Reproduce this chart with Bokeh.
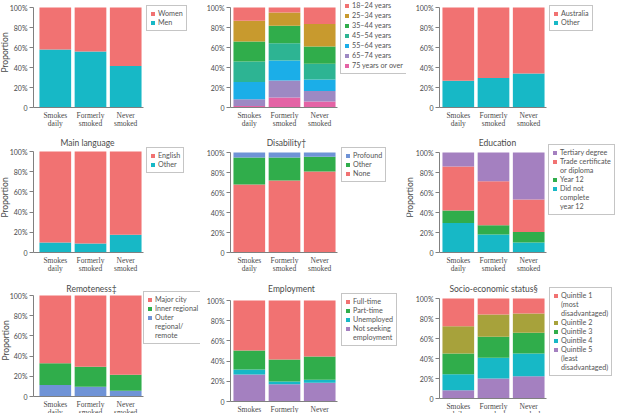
from math import pi
from bokeh.plotting import figure
from bokeh.models import (ColumnDataSource, Range1d, FixedTicker,
                          Legend, LegendItem, Label, LabelSet)
from bokeh.layouts import column, row
from bokeh.embed import file_html
from bokeh.resources import INLINE

# ---------------- data ----------------
categories = ["Smokes daily", "Formerly smoked", "Never smoked"]
category_line1 = ["Smokes", "Formerly", "Never"]
category_line2 = ["daily", "smoked", "smoked"]
y_ticks = [0, 20, 40, 60, 80, 100]
y_tick_labels = ["0", "20%", "40%", "60%", "80%", "100%"]

# series are listed bottom-to-top of the stack
sex_names = ["Men", "Women"]
sex_men = [58, 56, 41.5]
sex_women = [42, 44, 58.5]

age_names = ["75 years or over", "65\u201374 years", "55\u201364 years", "45\u201354 years",
             "35\u201344 years", "25\u201334 years", "18\u201324 years"]
age_75plus = [1.5, 10, 6]
age_65_74 = [6.8, 17, 10.6]
age_55_64 = [17.2, 20, 11.5]
age_45_54 = [20.5, 17.2, 15.6]
age_35_44 = [20, 17.6, 17.3]
age_25_34 = [20.8, 13.2, 22.4]
age_18_24 = [13.2, 5, 16.6]

birth_names = ["Other", "Australia"]
birth_other = [26.8, 29.5, 34]
birth_australia = [73.2, 70.5, 66]

lang_names = ["Other", "English"]
lang_other = [9.9, 8.9, 17.5]
lang_english = [90.1, 91.1, 82.5]

dis_names = ["None", "Other", "Profound"]
dis_none = [68, 72, 81]
dis_other = [27, 23, 14.7]
dis_profound = [5, 5, 4.3]

edu_names = ["Did not\ncomplete\nyear 12", "Year 12", "Trade certificate\nor diploma", "Tertiary degree"]
edu_notcomplete = [29.5, 18, 10]
edu_year12 = [12.5, 9.2, 10.5]
edu_trade = [44, 44, 32.5]
edu_tertiary = [14, 28.8, 47]

rem_names = ["Outer\nregional/\nremote", "Inner regional", "Major city"]
rem_outer = [11.3, 9.6, 5.6]
rem_inner = [21.5, 19.9, 15.9]
rem_major = [67.2, 70.5, 78.5]

emp_names = ["Not seeking\nemployment", "Unemployed", "Part-time", "Full-time"]
emp_notseeking = [26.7, 17.2, 18.5]
emp_unemployed = [5, 2.6, 3]
emp_parttime = [18.8, 21.8, 23.1]
emp_fulltime = [49.5, 58.4, 55.4]

ses_names = ["Quintile 5\n(least\ndisadvantaged)", "Quintile 4", "Quintile 3", "Quintile 2",
             "Quintile 1\n(most\ndisadvantaged)"]
ses_q5 = [8.3, 20, 22.3]
ses_q4 = [16, 20.7, 22.7]
ses_q3 = [20.7, 21, 20.7]
ses_q2 = [27.3, 22.3, 19.3]
ses_q1 = [27.7, 16, 15]

# ---------------- style / layout ----------------
SALMON = "#F17272"
TEAL = "#17B8C6"
GREEN = "#30AD4B"
BLUE = "#6F93D6"
PURPLE = "#A480C0"
GOLD = "#C89A2E"
TEALGREEN = "#2DB493"
SKY = "#1BAEE8"
LAVENDER = "#9D89C3"
PINK = "#E463A5"
OLIVE = "#A7A23B"
FONT = "Lato"
TXT = "#4a4a4a"
LEGTXT = "#555555"
AXC = "#808080"
UNIT = 35.2     # px per category
LH = 8          # legend line pitch
PAD = 3

COLS = [(0, 200, 33, 37.2), (200, 206, 230, 231.2), (406, 214, 439, 440.2)]  # left, width, axis px, bars-left px
ROWS = [(0, 135), (135, 140), (275, 138)]  # top, height


def panel(ci, ri, tb, title, title_xy, names, colors, values, leg_xy,
          proportion_xy=None, spacing=0):
    cl, cw, ax_px, l_px = COLS[ci]
    ct, ch = ROWS[ri]
    t_px, b_px = tb
    cb = ct + ch
    xstart = -0.5 - (l_px - cl) / UNIT
    ppu = (b_px - t_px) / 100.0
    p = figure(x_range=Range1d(xstart, xstart + cw / UNIT),
               y_range=Range1d(-(cb - b_px) / ppu, 100 + (t_px - ct) / ppu),
               width=cw, height=ch, output_backend="svg", toolbar_location=None,
               min_border=0)
    xpos = list(range(len(categories)))
    data = {"x": xpos}
    keys = []
    for i, v in enumerate(values):
        data[f"s{i}"] = v
        keys.append(f"s{i}")
    src = ColumnDataSource(data)
    rs = p.vbar_stack(keys, x="x", width=0.9, fill_color=colors, line_color=None,
                      source=src)
    dummy = p.vbar(x=[], top=[], width=0.9, fill_alpha=0, line_alpha=0)
    p.outline_line_color = None
    p.xgrid.visible = False
    p.ygrid.visible = False
    p.background_fill_color = "white"
    p.border_fill_color = "white"

    axis_x = -0.5 - (l_px - ax_px) / UNIT
    ya = p.yaxis[0]
    ya.fixed_location = axis_x
    ya.bounds = (0, 100)
    ya.ticker = FixedTicker(ticks=y_ticks)
    ya.major_label_overrides = dict(zip(y_ticks, y_tick_labels))
    ya.major_tick_out = 4
    ya.major_tick_in = 0
    ya.minor_tick_line_color = None
    ya.major_label_standoff = 2
    ya.major_label_text_font = FONT
    ya.major_label_text_font_size = "7px"
    ya.major_label_text_color = TXT
    ya.axis_line_color = AXC
    ya.major_tick_line_color = AXC

    xa = p.xaxis[0]
    xa.fixed_location = 0
    xa.bounds = (axis_x, len(categories) - 0.5)
    xa.ticker = FixedTicker(ticks=[])
    xa.minor_tick_line_color = None
    xa.major_tick_line_color = None
    xa.axis_line_color = AXC

    for line, off in ((category_line1, -3), (category_line2, -11)):
        lsrc = ColumnDataSource(dict(x=xpos, y=[0] * len(xpos), text=line))
        p.add_layout(LabelSet(x="x", y="y", text="text", source=lsrc, y_offset=off,
                              text_align="center", text_baseline="top",
                              text_font=FONT, text_font_size="7.5px", text_color=TXT))

    if title:
        p.add_layout(Label(x=title_xy[0] - cl, y=cb - title_xy[1], x_units="screen",
                           y_units="screen", text=title, text_align="center",
                           text_baseline="middle", text_font=FONT,
                           text_font_size="8.5px", text_color=TXT))

    if proportion_xy is not None:
        p.add_layout(Label(x=proportion_xy[0] - cl, y=cb - proportion_xy[1],
                           x_units="screen", y_units="screen",
                           text="Proportion", angle=pi / 2, text_align="center",
                           text_baseline="middle", text_font=FONT,
                           text_font_size="8.5px", text_color=TXT))

    items = []
    for i in range(len(names) - 1, -1, -1):
        parts = names[i].split("\n")
        items.append(LegendItem(label=parts[0], renderers=[rs[i]]))
        for extra in parts[1:]:
            items.append(LegendItem(label=extra, renderers=[dummy]))
    n = len(items)
    leg_h = 2 * PAD + n * LH + spacing * (n - 1)
    lg = Legend(items=items, location=(leg_xy[0] - cl, cb - leg_xy[1] - leg_h),
                orientation="vertical",
                border_line_color="#8c8c8c", border_line_width=1,
                background_fill_color="white", background_fill_alpha=1,
                padding=PAD, margin=0, spacing=spacing, label_height=LH,
                glyph_height=5, glyph_width=5, label_standoff=3,
                label_text_font=FONT, label_text_font_size="7.2px",
                label_text_color=LEGTXT)
    p.add_layout(lg, "center")
    return p


r1 = row(
    panel(0, 0, (7, 107), None, None, sex_names, [TEAL, SALMON], [sex_men, sex_women],
          (146, 9), proportion_xy=(4, 52)),
    panel(1, 0, (7, 107), None, None, age_names,
          [PINK, LAVENDER, SKY, TEALGREEN, GREEN, GOLD, SALMON],
          [age_75plus, age_65_74, age_55_64, age_45_54, age_35_44, age_25_34, age_18_24],
          (340, 6), spacing=1),
    panel(2, 0, (7, 107), None, None, birth_names, [TEAL, SALMON],
          [birth_other, birth_australia], (549, 9)),
)
r2 = row(
    panel(0, 1, (151, 252), "Main language", (87, 142.5), lang_names, [TEAL, SALMON],
          [lang_other, lang_english], (146, 151), proportion_xy=(4, 197)),
    panel(1, 1, (152, 252), "Disability\u2020", (286, 142.5), dis_names,
          [SALMON, GREEN, BLUE], [dis_none, dis_other, dis_profound], (341, 152)),
    panel(2, 1, (152, 252), "Education", (497, 142.5), edu_names,
          [TEAL, GREEN, SALMON, PURPLE],
          [edu_notcomplete, edu_year12, edu_trade, edu_tertiary], (548, 153),
          proportion_xy=(409.5, 197)),
)
r3 = row(
    panel(0, 2, (295, 396), "Remoteness\u2021", (91, 288.5), rem_names,
          [BLUE, GREEN, SALMON], [rem_outer, rem_inner, rem_major], (143, 298),
          proportion_xy=(5, 340)),
    panel(1, 2, (300, 401), "Employment", (291, 288.5), emp_names,
          [PURPLE, TEAL, GREEN, SALMON],
          [emp_notseeking, emp_unemployed, emp_parttime, emp_fulltime], (341, 300)),
    panel(2, 2, (298, 398), "Socio-economic status\u00a7", (493, 288.5), ses_names,
          [PURPLE, TEAL, GREEN, OLIVE, SALMON],
          [ses_q5, ses_q4, ses_q3, ses_q2, ses_q1], (549, 298)),
)

layout = column(r1, r2, r3)
open("out.html", "w").write(file_html(layout, INLINE))
